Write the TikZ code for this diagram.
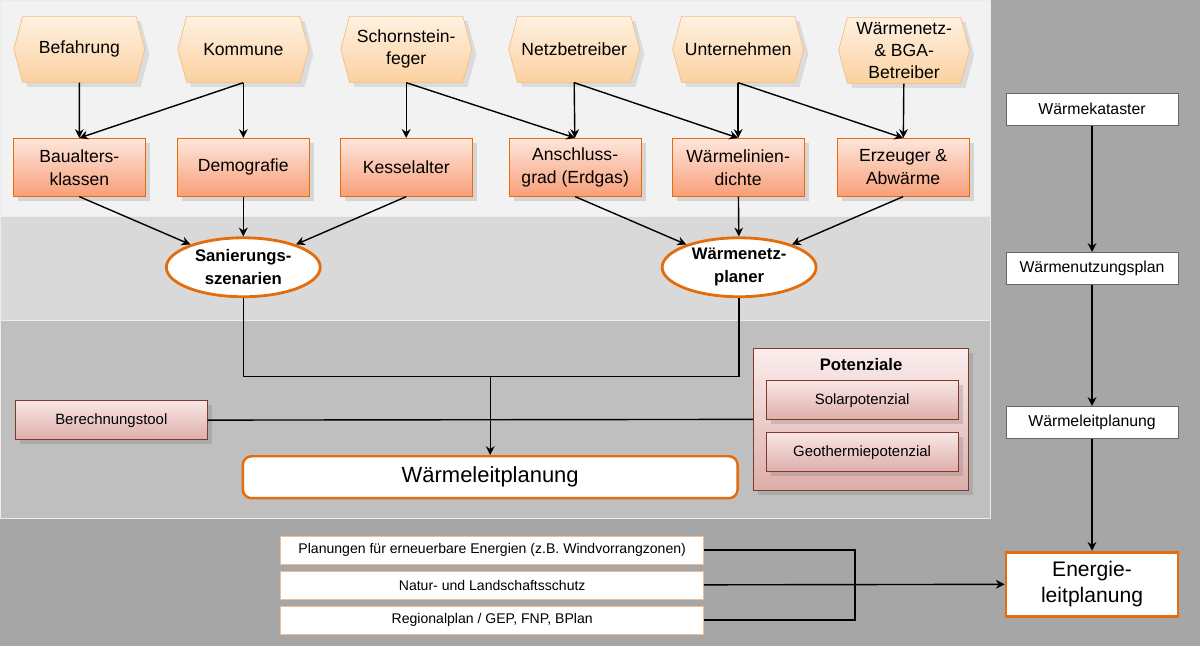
\documentclass[tikz,border=0pt]{standalone}
\usepackage{fontspec}
\setmainfont{Liberation Sans}
\usetikzlibrary{shapes.geometric,shapes.symbols,shadows,positioning,arrows.meta}

\definecolor{bgdark}{HTML}{A6A6A6}
\definecolor{bandA}{HTML}{F2F2F2}
\definecolor{bandB}{HTML}{D9D9D9}
\definecolor{bandC}{HTML}{BFBFBF}
\definecolor{orng}{HTML}{E46C0A}
\definecolor{hextop}{HTML}{FEF1E2}
\definecolor{hexbot}{HTML}{FBD19F}
\definecolor{recttop}{HTML}{FDE6DC}
\definecolor{rectbot}{HTML}{F89F78}
\definecolor{pinktop}{HTML}{F8E6E5}
\definecolor{pinkbot}{HTML}{DDAEAA}
\definecolor{brownline}{HTML}{7F3A2C}

\tikzset{
  actor/.style={signal, signal to=west and east, signal pointer angle=150, draw=hexbot!80!orng,
    top color=hextop, bottom color=hexbot, minimum width=2.62cm, minimum height=1.32cm,
    inner sep=1pt, align=center, font=\fontsize{10}{12.5}\selectfont, drop shadow={opacity=0.2}},
  datum/.style={rectangle, draw=orng, top color=recttop, bottom color=rectbot,
    minimum width=2.64cm, minimum height=1.16cm, align=center,
    font=\fontsize{10}{13}\selectfont, drop shadow={opacity=0.25}},
  tool/.style={ellipse, draw=orng, line width=1.6pt, fill=white, minimum width=3.08cm,
    minimum height=1.18cm, inner sep=0pt, align=center, font=\fontsize{9.5}{13}\selectfont\bfseries},
  pinkbox/.style={rectangle, draw=brownline, top color=pinktop, bottom color=pinkbot,
    minimum width=3.84cm, minimum height=0.78cm, font=\fontsize{8.5}{10}\selectfont,
    drop shadow={opacity=0.3}},
  stepbox/.style={rectangle, draw=black!60, fill=white, minimum width=3.44cm,
    minimum height=0.64cm, font=\fontsize{9}{11}\selectfont},
  inputbox/.style={rectangle, draw=orng!45, fill=white, minimum width=8.46cm,
    minimum height=0.56cm, font=\fontsize{8}{10}\selectfont},
  link/.style={-{Stealth[length=5pt,width=5pt]}, thick}
}

\begin{document}
\begin{tikzpicture}[x=0.02cm, y=-0.02cm]
    \fill[bgdark] (0,0) rectangle (1200,646);
    \filldraw[fill=bandA, draw=white!85!gray] (0,0) rectangle (990,216);
    \filldraw[fill=bandB, draw=white!85!gray] (0,216) rectangle (990,320);
    \filldraw[fill=bandC, draw=white!85!gray] (0,320) rectangle (990,518);

    \node[actor] (befahrung) at (79,49) {Befahrung};
    \node[actor] (kommune) at (243,49) {Kommune};
    \node[actor] (schorn) at (406,49) {Schornstein-\\feger};
    \node[actor] (netzbetr) at (574,49) {Netzbetreiber};
    \node[actor] (untern) at (738,49) {Unternehmen};
    \node[actor] (bgabetr) at (904,50) {Wärmenetz-\\\& BGA-\\Betreiber};

    \node[datum] (baualter) at (79,167) {Baualters-\\klassen};
    \node[datum] (demo) at (243,167) {Demografie};
    \node[datum] (kessel) at (406,167) {Kesselalter};
    \node[datum] (anschluss) at (575,167) {Anschluss-\\grad (Erdgas)};
    \node[datum] (linien) at (738,167) {Wärmelinien-\\dichte};
    \node[datum] (erzeuger) at (903,167) {Erzeuger \&\\Abwärme};

    \node[tool] (sanierung) at (243,267) {Sanierungs-\\szenarien};
    \node[tool] (netzplaner) at (739,267) {Wärmenetz-\\planer};

    \node[pinkbox] (rechner) at (111,420) {Berechnungstool};
    \node[pinkbox, minimum width=4.3cm, minimum height=2.84cm, top color=pinktop!70!white] (potenz) at (861,419) {};
    \node[font=\fontsize{9.5}{11}\selectfont\bfseries] (pottitle) at (861,364) {Potenziale};
    \node[pinkbox] (solar) at (862,400) {Solarpotenzial};
    \node[pinkbox] (geo) at (862,452) {Geothermiepotenzial};
    \node[rectangle, rounded corners=5pt, draw=orng, line width=1.4pt, fill=white,
      minimum width=9.9cm, minimum height=0.84cm, font=\fontsize{12.5}{14}\selectfont] (waermeleit) at (490,477) {Wärmeleitplanung};

    \node[inputbox] (planungen) at (492,550) {Planungen für erneuerbare Energien (z.B. Windvorrangzonen)};
    \node[inputbox] (natur) at (492,585) {Natur- und Landschaftsschutz};
    \node[inputbox] (regional) at (492,620) {Regionalplan / GEP, FNP, BPlan};

    \node[stepbox] (kataster) at (1092,109) {Wärmekataster};
    \node[stepbox] (nutzung) at (1092,268) {Wärmenutzungsplan};
    \node[stepbox] (leitplan) at (1092,422) {Wärmeleitplanung};
    \node[stepbox, draw=orng, line width=1.6pt, minimum height=1.28cm, align=center,
      font=\fontsize{12}{15}\selectfont] (energie) at (1092,584) {Energie-\\leitplanung};

    \coordinate (join) at (490,376);
    \coordinate (bus) at (855,585);

    \path[link]
    (befahrung) edge (baualter)
    (kommune.south) edge (baualter.north)
        edge (demo)
    (schorn.south) edge (kessel)
        edge (anschluss.north)
    (netzbetr.south) edge (anschluss)
        edge (linien.north)
    (untern.south) edge (linien)
        edge (erzeuger.north)
    (bgabetr) edge (erzeuger)
    (baualter.south) edge (sanierung)
    (demo) edge (sanierung)
    (kessel.south) edge (sanierung)
    (anschluss.south) edge (netzplaner)
    (linien) edge (netzplaner)
    (erzeuger.south) edge (netzplaner)
    (join) edge (waermeleit)
    (natur) edge (energie)
    (kataster) edge (nutzung)
    (nutzung) edge (leitplan)
    (leitplan) edge (energie);

    \draw[thick] (sanierung.south) |- (join) -| (netzplaner.south);
    \draw[thick] (rechner) -- (potenz);
    \draw[thick] (planungen) -| (bus) |- (regional);
\end{tikzpicture}
\end{document}
